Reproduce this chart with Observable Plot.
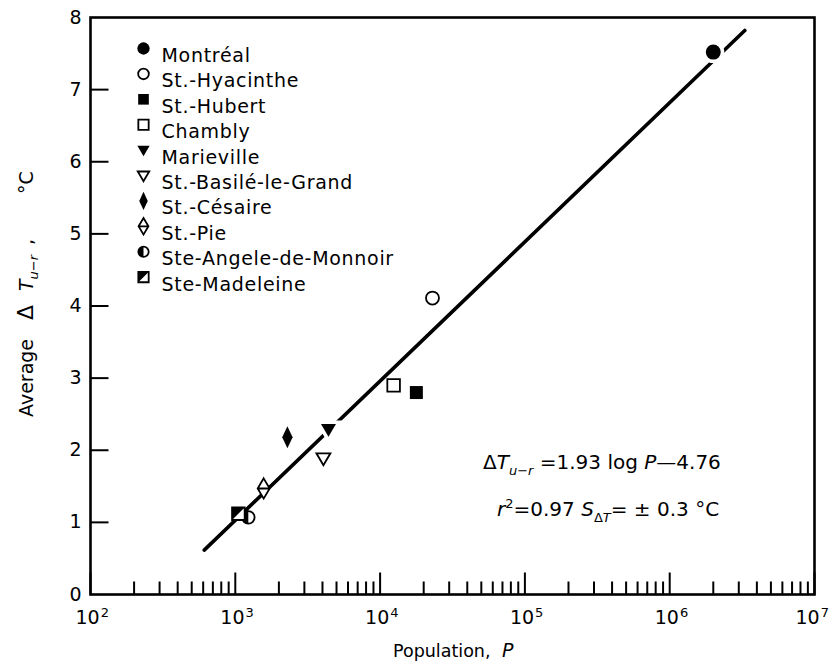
<!DOCTYPE html>
<html>
<head>
<meta charset="utf-8">
<script src="https://cdn.jsdelivr.net/npm/d3@7"></script>
<script src="https://cdn.jsdelivr.net/npm/@observablehq/plot@0.6"></script>
<style>
  html, body { margin: 0; padding: 0; background: white; }
  #chart { width: 832px; height: 666px; }
  svg text { font-family: "DejaVu Sans", sans-serif; }
</style>
</head>
<body>
<div id="chart"></div>
<script>
// ---- data ----
const names = ["Montréal", "St.-Hyacinthe", "St.-Hubert", "Chambly", "Marieville",
  "St.-Basilé-le-Grand", "St.-Césaire", "St.-Pie", "Ste-Angele-de-Monnoir", "Ste-Madeleine"];
const population = [2.0e6, 2.3e4, 1.78e4, 1.24e4, 4.4e3, 4.06e3, 2.29e3, 1.57e3, 1.23e3, 1.05e3];
const deltaT = [7.52, 4.11, 2.80, 2.90, 2.29, 1.89, 2.18, 1.47, 1.07, 1.12];
const xTickValues = [1e2, 1e3, 1e4, 1e5, 1e6, 1e7];
const xTickExponents = ["2", "3", "4", "5", "6", "7"];
const yTickValues = [0, 1, 2, 3, 4, 5, 6, 7, 8];
const fitSlope = 1.93, fitIntercept = -4.76;
const fitPopulationRange = [610, 3.3e6];

// ---- derived tables ----
const fitLine = fitPopulationRange.map(p => ({p, t: fitSlope * Math.log10(p) + fitIntercept}));
const minorTicks = [];
for (let e = 2; e < 7; e++) for (let k = 2; k <= 9; k++) minorTicks.push(k * 10 ** e);
const innerYTicks = yTickValues.slice(1, -1);

// ---- custom symbols ----
const sym = f => ({draw(c, size) { f(c, Math.sqrt(size / Math.PI)); }});
const S = {
  circle: sym((c, r) => { c.moveTo(r, 0); c.arc(0, 0, r, 0, 2 * Math.PI); c.closePath(); }),
  square: sym((c, r) => { c.rect(-r, -r, 2 * r, 2 * r); }),
  triDown: sym((c, r) => { c.moveTo(-r, -0.7 * r); c.lineTo(r, -0.7 * r); c.lineTo(0, r); c.closePath(); }),
  tallDiamond: sym((c, r) => { c.moveTo(0, -1.7 * r); c.lineTo(0.8 * r, 0); c.lineTo(0, 1.7 * r); c.lineTo(-0.8 * r, 0); c.closePath(); }),
  pie: sym((c, r) => { c.moveTo(0, -1.35 * r); c.lineTo(0.8 * r, 0); c.lineTo(0, 1.35 * r); c.lineTo(-0.8 * r, 0); c.closePath(); c.moveTo(-0.8 * r, 0); c.lineTo(0.8 * r, 0); }),
  halfDisc: sym((c, r) => { c.moveTo(0, -r); c.arc(0, 0, r, -Math.PI / 2, Math.PI / 2, true); c.closePath(); }),
  halfSquare: sym((c, r) => { c.moveTo(-r, -r); c.lineTo(r, -r); c.lineTo(-r, r); c.closePath(); }),
  vline: sym((c, r) => { c.moveTo(0, 0); c.lineTo(0, -r); }),
  hline: sym((c, r) => { c.moveTo(0, 0); c.lineTo(r, 0); })
};
const K = "black";
const styles = [
  [{symbol: S.circle, fill: K, r: 7.5}],
  [{symbol: S.circle, fill: "white", stroke: K, strokeWidth: 1.8, r: 6.5}],
  [{symbol: S.square, fill: K, r: 6.5}],
  [{symbol: S.square, fill: "white", stroke: K, strokeWidth: 1.8, r: 6.3}],
  [{symbol: S.triDown, fill: K, r: 7.5}],
  [{symbol: S.triDown, fill: "white", stroke: K, strokeWidth: 1.8, r: 7}],
  [{symbol: S.tallDiamond, fill: K, r: 6.5}],
  [{symbol: S.pie, fill: "white", stroke: K, strokeWidth: 1.8, r: 7.5}],
  [{symbol: S.circle, fill: "white", stroke: K, strokeWidth: 1.8, r: 6.3}, {symbol: S.halfDisc, fill: K, r: 6.3}],
  [{symbol: S.square, fill: "white", stroke: K, strokeWidth: 1.8, r: 6.3}, {symbol: S.halfSquare, fill: K, r: 6.3}]
];
const haloed = [0, 4];

const marks = [];
// frame & ticks
marks.push(Plot.frame({stroke: K, strokeWidth: 2.6}));
marks.push(Plot.dot(innerYTicks, {y: d => d, frameAnchor: "left", symbol: S.hline, r: 18, stroke: K, strokeWidth: 2, fill: "none"}));
marks.push(Plot.dot(xTickValues, {x: d => d, frameAnchor: "bottom", symbol: S.vline, r: 22, stroke: K, strokeWidth: 2, fill: "none"}));
marks.push(Plot.dot(minorTicks, {x: d => d, frameAnchor: "bottom", symbol: S.vline, r: 13, stroke: K, strokeWidth: 2, fill: "none"}));
marks.push(Plot.axisY({ticks: yTickValues, tickSize: 0, tickPadding: 9, fontSize: 19, label: null}));
marks.push(Plot.axisX({ticks: xTickValues, tickFormat: d => "10", tickSize: 0, tickPadding: 16, fontSize: 19, label: null}));
// regression line
marks.push(Plot.line(fitLine, {x: "p", y: "t", stroke: K, strokeWidth: 3.6}));
// halos (line gaps) and data points
haloed.forEach(i => styles[i].forEach(s => marks.push(Plot.dot([i], {x: j => population[j], y: j => deltaT[j], symbol: s.symbol, r: s.r, fill: "white", stroke: "white", strokeWidth: 7}))));
names.forEach((n, i) => styles[i].forEach(s => marks.push(Plot.dot([i], {x: j => population[j], y: j => deltaT[j], ...s}))));
// legend
names.forEach((n, i) => {
  const dy = 31 + i * 25.4;
  styles[i].forEach(s => marks.push(Plot.dot([i], {frameAnchor: "top-left", dx: 53, dy, ...s, r: s.r * 0.82})));
  marks.push(Plot.text([n], {frameAnchor: "top-left", dx: 71, dy, text: d => d, textAnchor: "start", fontSize: 19, fill: K}));
});

const svg = Plot.plot({
  width: 832, height: 666,
  marginLeft: 90, marginRight: 18, marginTop: 17, marginBottom: 72,
  style: {fontFamily: "DejaVu Sans", background: "white", color: "black"},
  x: {type: "log", domain: [1e2, 1e7]},
  y: {domain: [0, 8]},
  marks
});
d3.select(svg).selectAll("g[aria-label=text] text").style("letter-spacing", "0.7px");
// superscript exponents on the x tick labels
d3.select(svg).selectAll('g[aria-label="x-axis tick label"] text').each(function (d, i) {
  const t = d3.select(this);
  t.attr("text-anchor", "start").attr("dx", i === xTickValues.length - 1 ? -19 : -15);
  t.append("tspan").attr("font-size", 13).attr("dy", "-0.55em").attr("dx", 1).text(xTickExponents[i]);
});

// ---- annotation texts (with italics / subscripts) ----
const g = d3.select(svg).append("g").attr("fill", "black").attr("text-anchor", "start").style("font-family", "DejaVu Sans");
// y-axis title (rotated; x runs upward from y = 417)
const yt = g.append("text").attr("transform", "translate(33,417) rotate(-90)").attr("font-size", 19);
yt.append("tspan").attr("x", 0).text("Average");
yt.append("tspan").attr("x", 97).attr("font-size", 22).text("Δ");
yt.append("tspan").attr("x", 126).attr("font-style", "italic").text("T");
yt.append("tspan").attr("font-style", "italic").attr("font-size", 13).attr("dy", 5).text("u−r");
yt.append("tspan").attr("x", 172).attr("dy", -5).text(",");
yt.append("tspan").attr("x", 223).text("°C");
// x-axis title
const xt = g.append("text").attr("x", 393).attr("y", 657).attr("font-size", 17.5);
xt.append("tspan").text("Population,");
xt.append("tspan").attr("x", 502).attr("font-style", "italic").attr("font-size", 19).text("P");
// equation
const e1 = g.append("text").attr("x", 483).attr("y", 469).attr("font-size", 20);
e1.append("tspan").text("Δ");
e1.append("tspan").attr("font-style", "italic").text("T");
e1.append("tspan").attr("font-style", "italic").attr("font-size", 13).attr("dy", 6).text("u−r");
e1.append("tspan").attr("dy", -6).text(" =1.93 log ");
e1.append("tspan").attr("font-style", "italic").text("P");
e1.append("tspan").text("—4.76");
const e2 = g.append("text").attr("x", 497).attr("y", 516).attr("font-size", 20);
e2.append("tspan").attr("font-style", "italic").text("r");
e2.append("tspan").attr("font-size", 13).attr("dy", -8).text("2");
e2.append("tspan").attr("dy", 8).text("=0.97 ");
e2.append("tspan").attr("font-style", "italic").text("S");
e2.append("tspan").attr("font-size", 13).attr("dy", 6).text("Δ");
e2.append("tspan").attr("font-style", "italic").attr("font-size", 13).text("T");
e2.append("tspan").attr("dy", -6).text("= ± 0.3 °C");

document.getElementById("chart").appendChild(svg);
</script>
</body>
</html>
